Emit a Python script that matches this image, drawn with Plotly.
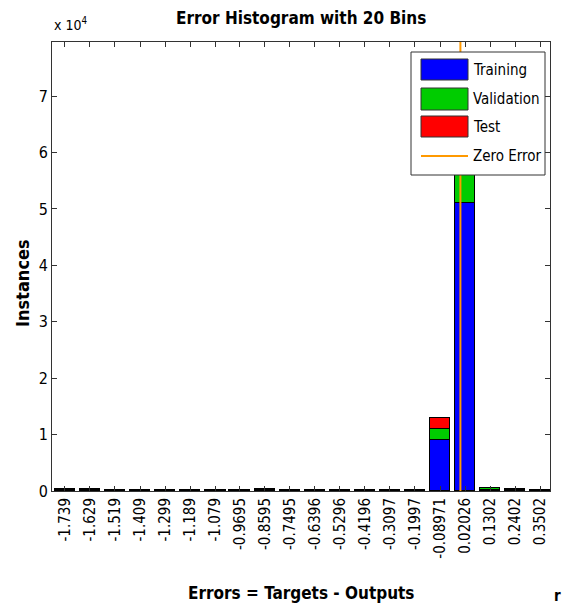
import plotly.graph_objects as go

# ---- data ----
bin_centers = [-1.739, -1.629, -1.519, -1.409, -1.299, -1.189, -1.079, -0.9695, -0.8595,
               -0.7495, -0.6396, -0.5296, -0.4196, -0.3097, -0.1997, -0.08971, 0.02026,
               0.1302, 0.2402, 0.3502]
tick_labels = ["-1.739", "-1.629", "-1.519", "-1.409", "-1.299", "-1.189", "-1.079", "-0.9695",
               "-0.8595", "-0.7495", "-0.6396", "-0.5296", "-0.4196", "-0.3097", "-0.1997",
               "-0.08971", "0.02026", "0.1302", "0.2402", "0.3502"]
training = [250, 210, 100, 140, 100, 100, 100, 100, 210, 180, 180, 100, 180, 140, 180,
            9000, 51000, 250, 210, 180]
validation = [50, 45, 25, 30, 25, 25, 25, 25, 45, 35, 35, 25, 35, 30, 35,
              2000, 11000, 300, 45, 35]
test = [50, 45, 25, 30, 25, 25, 25, 25, 45, 35, 35, 25, 35, 30, 35,
        1900, 11000, 50, 45, 35]
zero_error_x = [0, 0]
zero_error_y = [0, 80000]
y_ticks = [0, 10000, 20000, 30000, 40000, 50000, 60000, 70000]
y_tick_labels = ["0", "1", "2", "3", "4", "5", "6", "7"]

FONT = "DejaVu Sans Condensed, Liberation Sans Narrow, Liberation Sans, Arial, sans-serif"
OFF = 8  # page body margin
W, H = 570 - 2 * OFF, 613 - 2 * OFF
L, R, T, B = 52 - OFF, 550 - OFF, 42 - OFF, 491 - OFF

def px(x):
    return (x - OFF - L) / (R - L)

def py(y):
    return (B - (y - OFF)) / (B - T)

fig = go.Figure()
bw = 0.092
for name, vals, col in [("Training", training, "#0000FF"),
                        ("Validation", validation, "#00CC00"),
                        ("Test", test, "#FF0000")]:
    fig.add_trace(go.Bar(x=bin_centers, y=vals, name=name, width=bw,
                         marker=dict(color=col, line=dict(color="#000000", width=1)),
                         showlegend=False))
fig.add_trace(go.Scatter(x=zero_error_x, y=zero_error_y, mode="lines",
                         line=dict(color="#FF9900", width=2), showlegend=False))

shapes = []
annotations = []
# legend box
shapes.append(dict(type="rect", xref="paper", yref="paper", x0=px(411), x1=px(545),
                   y0=py(175), y1=py(52), fillcolor="white", line=dict(color="#333333", width=1)))
entries = [("Training", "#0000FF", 59, 80), ("Validation", "#00CC00", 88, 110), ("Test", "#FF0000", 116, 137)]
for name, col, y0, y1 in entries:
    shapes.append(dict(type="rect", xref="paper", yref="paper", x0=px(421), x1=px(468),
                       y0=py(y1), y1=py(y0), fillcolor=col, line=dict(color="#333333", width=1)))
    annotations.append(dict(text=name, xref="paper", yref="paper", x=px(471), y=py((y0 + y1) / 2),
                            xanchor="left", yanchor="middle", showarrow=False,
                            font=dict(family=FONT, size=15, color="black")))
shapes.append(dict(type="line", xref="paper", yref="paper", x0=px(421), x1=px(468),
                   y0=py(156), y1=py(156), line=dict(color="#FF9900", width=2)))
annotations.append(dict(text="Zero Error", xref="paper", yref="paper", x=px(471), y=py(156),
                        xanchor="left", yanchor="middle", showarrow=False,
                        font=dict(family=FONT, size=15, color="black")))
# titles
annotations.append(dict(text="<b>Error Histogram with 20 Bins</b>", xref="paper", yref="paper",
                        x=0.5, y=py(18), xanchor="center", yanchor="middle", showarrow=False,
                        font=dict(family=FONT, size=17, color="black")))
annotations.append(dict(text="<b>Errors = Targets - Outputs</b>", xref="paper", yref="paper",
                        x=0.5, y=py(593), xanchor="center", yanchor="middle", showarrow=False,
                        font=dict(family=FONT, size=17, color="black")))
annotations.append(dict(text="<b>Instances</b>", xref="paper", yref="paper",
                        x=px(22), y=py(283), xanchor="center", yanchor="middle", showarrow=False,
                        textangle=-90, font=dict(family=FONT, size=18, color="black")))
annotations.append(dict(text="x 10<sup>4</sup>", xref="paper", yref="paper",
                        x=px(52), y=py(24), xanchor="left", yanchor="middle", showarrow=False,
                        font=dict(family=FONT, size=14, color="black")))
annotations.append(dict(text="<b>r</b>", xref="paper", yref="paper",
                        x=px(557), y=py(596), xanchor="center", yanchor="middle", showarrow=False,
                        font=dict(family=FONT, size=15, color="black")))

fig.update_layout(
    width=W, height=H, barmode="stack", bargap=0,
    margin=dict(l=L, r=W - R, t=T, b=H - B, pad=0),
    paper_bgcolor="white", plot_bgcolor="white",
    shapes=shapes, annotations=annotations, showlegend=False,
    xaxis=dict(range=[-1.796, 0.394], tickmode="array", tickvals=bin_centers, ticktext=tick_labels,
               tickangle=-90, ticks="inside", ticklen=5, tickcolor="#333333",
               showline=True, linecolor="#333333", linewidth=1, mirror="ticks",
               showgrid=False, zeroline=False,
               tickfont=dict(family=FONT, size=15, color="black")),
    yaxis=dict(range=[0, 79600], tickmode="array", tickvals=y_ticks, ticktext=y_tick_labels,
               ticks="inside", ticklen=5, tickcolor="#333333",
               showline=True, linecolor="#333333", linewidth=1, mirror="ticks",
               showgrid=False, zeroline=False,
               tickfont=dict(family=FONT, size=16, color="black")),
)
fig.write_html("out.html")
